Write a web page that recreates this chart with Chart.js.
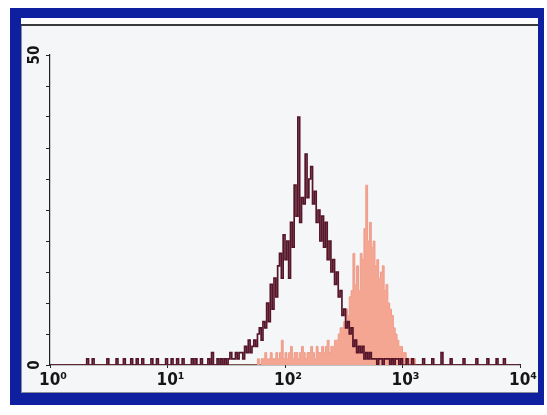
<!DOCTYPE html>
<html>
<head>
<meta charset="utf-8">
<script src="https://cdn.jsdelivr.net/npm/chart.js@4"></script>
<style>
  html, body { margin: 0; padding: 0; background: #ffffff; }
  body { width: 547px; height: 415px; position: relative; overflow: hidden; }
  #frame { position: absolute; left: 10px; top: 8px; width: 534px; height: 397px; background: #0e20a0; }
  #panel { position: absolute; left: 21px; top: 18px; width: 517px; height: 375px; background: #f4f6f8; box-shadow: inset 1px -1px 0 #8a8f99; }
  #strip { position: absolute; left: 21px; top: 18px; width: 517px; height: 6px; background: #fdfdfd; border-bottom: 2px solid #3a3a3a; }
  canvas { position: absolute; left: 0; top: 0; }
</style>
</head>
<body>
<div id="frame"></div>
<div id="panel"></div>
<div id="strip"></div>
<canvas id="histogram" width="547" height="415"></canvas>
<script>
// Log fluorescence axis: 4 decades, 64 channels per decade (256 channels).
const decadeLabels = ['10\u2070', '10\u00b9', '10\u00b2', '10\u00b3', '10\u2074'];
const countLabels = [0, 50];
const channelsPerDecade = 64;

// Event counts per channel, control (outline)
const controlCounts = [
  0,0,0,0,0,0,0,0,0,0,0,0,0,0,0,0,
  0,0,0,0,1,0,0,1,0,0,0,0,0,0,0,1,
  0,0,0,0,1,0,0,0,1,0,0,0,1,0,0,1,
  0,0,1,0,0,0,0,1,0,0,1,0,0,0,0,1,
  0,0,1,0,0,1,0,0,1,0,0,0,0,1,0,1,
  0,0,1,0,0,0,1,0,2,0,0,1,0,1,0,1,
  0,1,2,1,1,2,1,2,2,1,3,2,4,2,3,4,
  3,5,6,4,7,6,10,7,13,9,14,11,16,18,14,21,
  17,20,14,23,19,29,24,40,23,27,26,34,27,30,32,26,
  28,23,25,20,24,19,23,17,20,15,17,13,15,11,12,8,
  9,6,7,5,6,3,4,2,3,2,3,1,2,1,2,1,
  1,1,0,1,1,0,1,1,1,0,1,0,1,1,0,1,
  0,0,1,0,0,1,0,0,0,0,0,1,0,0,0,0,
  1,0,0,0,0,2,0,0,0,0,1,0,0,0,0,0,
  0,1,0,0,0,0,0,0,1,0,0,0,0,0,1,0,
  0,0,0,1,0,0,0,1,0,0,0,0,0,0,0,0
];

// Event counts per channel, stained sample (filled)
const stainedCounts = [
  0,0,0,0,0,0,0,0,0,0,0,0,0,0,0,0,
  0,0,0,0,0,0,0,0,0,0,0,0,0,0,0,0,
  0,0,0,0,0,0,0,0,0,0,0,0,0,0,0,0,
  0,0,0,0,0,0,0,0,0,0,0,0,0,0,0,0,
  0,0,0,0,0,0,0,0,0,0,0,0,0,0,0,0,
  0,0,0,0,0,0,0,0,0,0,0,0,0,0,0,0,
  0,0,0,0,0,0,0,0,0,0,0,0,0,0,0,0,
  0,1,0,1,1,2,1,1,2,1,1,2,1,2,4,1,
  2,1,2,3,1,2,2,1,2,3,2,1,2,2,3,2,
  1,3,2,2,3,2,3,4,2,3,3,4,4,5,6,6,
  7,9,8,11,12,18,13,16,12,18,17,22,29,20,23,19,
  20,16,17,14,15,16,12,13,10,9,8,6,5,4,3,3,
  2,2,1,1,1,0,1,0,0,0,0,0,0,0,0,0,
  0,0,0,0,0,0,0,0,0,0,0,0,0,0,0,0,
  0,0,0,0,0,0,0,0,0,0,0,0,0,0,0,0,
  0,0,0,0,0,0,0,0,0,0,0,0,0,0,0,0
];

// Channel centres expressed in decades (log10 of intensity).
const toPoints = counts => counts.map((n, c) => ({ x: (c + 0.5) / channelsPerDecade, y: n }));

const tickFont = { family: "'Liberation Sans Narrow', 'DejaVu Sans Condensed', 'Liberation Sans', sans-serif", weight: 'bold' };

new Chart(document.getElementById('histogram'), {
  type: 'line',
  data: {
    datasets: [
      {
        label: 'Control',
        data: toPoints(controlCounts),
        borderColor: '#561529',
        borderWidth: 1.7,
        stepped: 'middle',
        pointRadius: 0,
        fill: false
      },
      {
        label: 'Stained',
        data: toPoints(stainedCounts),
        borderColor: '#ef9a86',
        backgroundColor: '#f4a693',
        borderWidth: 1,
        stepped: 'middle',
        pointRadius: 0,
        fill: 'origin'
      }
    ]
  },
  options: {
    responsive: false,
    animation: false,
    devicePixelRatio: 1,
    layout: { padding: { left: 0, right: 27, top: 55, bottom: 0 } },
    plugins: { legend: { display: false }, tooltip: { enabled: false } },
    scales: {
      x: {
        type: 'linear',
        min: 0,
        max: 4,
        afterFit: scale => { scale.height = 50; },
        ticks: {
          stepSize: 1,
          autoSkip: false,
          maxRotation: 0,
          padding: 2,
          labelOffset: 3,
          color: '#151515',
          font: Object.assign({ size: 17 }, tickFont),
          callback: v => decadeLabels[v] ?? ''
        },
        grid: { drawOnChartArea: false, tickLength: 3, color: '#222' },
        border: { color: '#222', width: 1.2 }
      },
      y: {
        min: 0,
        max: 50,
        afterFit: scale => { scale.width = 50; },
        ticks: {
          stepSize: 5,
          autoSkip: false,
          minRotation: 90,
          maxRotation: 90,
          crossAlign: 'center',
          padding: 2,
          color: '#151515',
          font: Object.assign({ size: 15 }, tickFont),
          callback: v => countLabels.includes(v) ? String(v) : ''
        },
        grid: { drawOnChartArea: false, tickLength: 4, color: '#222' },
        border: { color: '#222', width: 1.2 }
      }
    }
  }
});
</script>
</body>
</html>
